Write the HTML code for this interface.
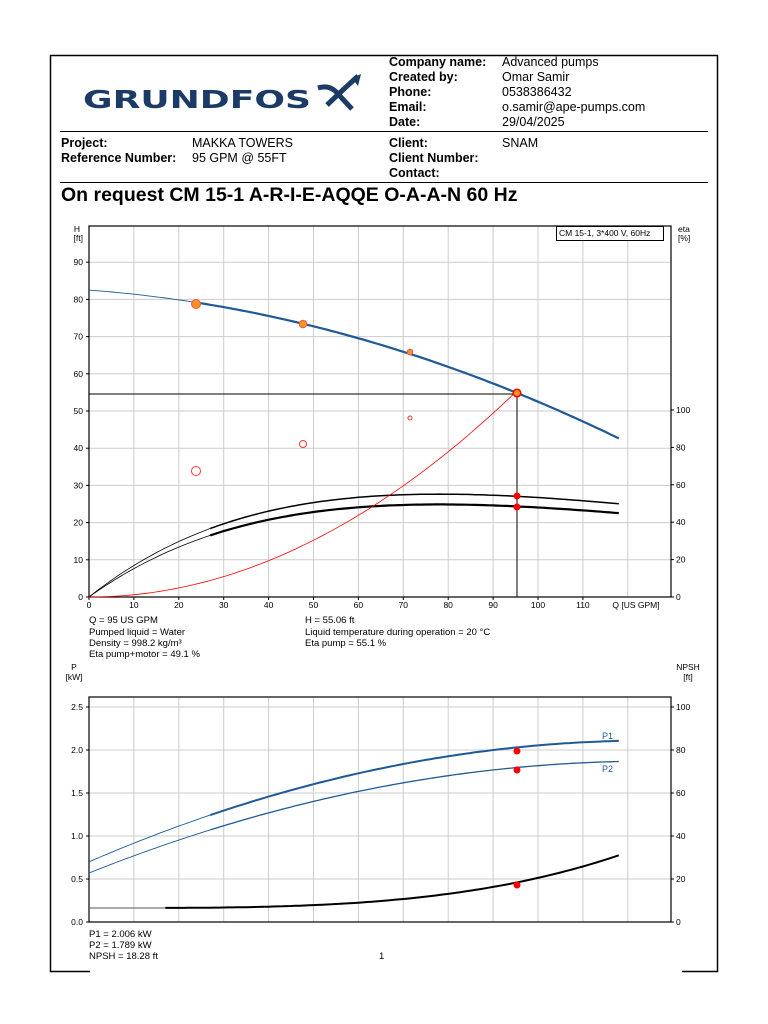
<!DOCTYPE html>
<html><head><meta charset="utf-8"><style>
body{margin:0;background:#fff;width:768px;height:1024px;overflow:hidden;font-family:"Liberation Sans",sans-serif}
svg{position:absolute;left:0;top:0}
</style></head><body>
<svg id="s" width="768" height="1024" xmlns="http://www.w3.org/2000/svg" font-family="Liberation Sans, sans-serif">
<rect x="50.5" y="55.5" width="667" height="916" fill="none" stroke="#000" stroke-width="1.5"/>
<rect x="90" y="960" width="592" height="20" fill="#fff"/>
<text x="83" y="108" font-size="25" font-weight="bold" fill="#1b3b66" textLength="228" lengthAdjust="spacingAndGlyphs" font-family="DejaVu Sans, sans-serif">GRUNDFOS</text>
<g fill="none" stroke="#1b3b66" stroke-width="5" stroke-linecap="butt">
<path d="M318 88 Q330 84 338 94 L352 109"/>
<path d="M327 105 L345 88 L358 76"/>
</g>
<path d="M352 78 L361 74 L358 86 Z" fill="#1b3b66"/>
<g font-size="12.5" font-weight="bold">
<text x="389" y="66">Company name:</text><text x="389" y="81">Created by:</text><text x="389" y="96">Phone:</text><text x="389" y="111">Email:</text><text x="389" y="126">Date:</text>
<text x="61" y="147">Project:</text><text x="61" y="162">Reference Number:</text>
<text x="389" y="147">Client:</text><text x="389" y="162">Client Number:</text><text x="389" y="177">Contact:</text>
</g>
<g font-size="12.5">
<text x="502" y="66">Advanced pumps</text><text x="502" y="81">Omar Samir</text><text x="502" y="96">0538386432</text><text x="502" y="111">o.samir@ape-pumps.com</text><text x="502" y="126">29/04/2025</text>
<text x="192" y="147">MAKKA TOWERS</text><text x="192" y="162">95 GPM @ 55FT</text><text x="502" y="147">SNAM</text>
</g>
<line x1="60" y1="131.5" x2="708" y2="131.5" stroke="#000"/>
<line x1="60" y1="182.5" x2="708" y2="182.5" stroke="#000"/>
<text x="61" y="201" font-size="19.5" font-weight="bold">On request CM 15-1 A-R-I-E-AQQE O-A-A-N 60 Hz</text>
<g id="g"></g>
<g font-size="9.5">
<text x="89" y="623">Q = 95 US GPM</text><text x="89" y="635">Pumped liquid = Water</text><text x="89" y="646">Density = 998.2 kg/m³</text><text x="89" y="657">Eta pump+motor = 49.1 %</text>
<text x="305" y="623">H = 55.06 ft</text><text x="305" y="635">Liquid temperature during operation = 20 °C</text><text x="305" y="646">Eta pump = 55.1 %</text>
<text x="89" y="937">P1 = 2.006 kW</text><text x="89" y="948">P2 = 1.789 kW</text><text x="89" y="959">NPSH = 18.28 ft</text><text x="379" y="959">1</text>
</g>
</svg>
<script>
var g=document.getElementById('g'),h='';
function X(q){return 89+q*4.49}
var L=89,R=671;
function ln(a,b,c,d,col,w){h+='<line x1="'+a+'" y1="'+b+'" x2="'+c+'" y2="'+d+'" stroke="'+col+'" stroke-width="'+(w||1)+'"/>'}
function tx(x,y,t,an,fs){h+='<text x="'+x+'" y="'+y+'" font-size="'+(fs||8.5)+'" text-anchor="'+(an||'start')+'">'+t+'</text>'}
function path(f,y,a,b,col,w){var d='';for(var q=a;q<=b+1e-6;q+=1){d+=(d?'L':'M')+X(q).toFixed(1)+' '+y(f(q)).toFixed(1)}h+='<path d="'+d+'" fill="none" stroke="'+col+'" stroke-width="'+w+'"/>'}
function circ(x,y,r,f,s,w){h+='<circle cx="'+x+'" cy="'+y+'" r="'+r+'" fill="'+f+'" stroke="'+s+'" stroke-width="'+(w||1)+'"/>'}
var T=226,B=597;
function YH(v){return 597-v*3.72} function YE(v){return 597-v*1.87}
for(var q=10;q<=129;q+=10)ln(X(q),T,X(q),B,'#ccc');
for(var v=10;v<=90;v+=10)ln(L,YH(v),R,YH(v),'#ccc');
h+='<rect x="'+L+'" y="'+T+'" width="'+(R-L)+'" height="'+(B-T)+'" fill="none" stroke="#000" stroke-width="1.2"/>';
for(var q=0;q<=110;q+=10){tx(X(q),608,q,'middle');ln(X(q),B,X(q),B+3,'#000')}
tx(636,608,'Q [US GPM]','middle');
for(var v=0;v<=90;v+=10){tx(83,YH(v)+3,v,'end');ln(L-3,YH(v),L,YH(v),'#000')}
for(var v=0;v<=100;v+=20){tx(676,YE(v)+3,v);ln(R,YE(v),R+3,YE(v),'#000')}
tx(80,232,'H','end');tx(83,241,'[ft]','end');tx(678,232,'eta');tx(678,241,'[%]');
h+='<rect x="556.5" y="226.5" width="107" height="14" fill="#fff" stroke="#000"/>';tx(559,236,'CM 15-1, 3*400 V, 60Hz','start',8.5);
function H(q){return 82.5-0.0895*q-0.002105*q*q}
function E1(q){var r=q/78;return 55*r*Math.exp(1-r)}
function E2(q){var r=q/78;return 49.5*r*Math.exp(1-r)}
function S(q){return 55.06*Math.pow(q/95,2)}
path(E1,YE,0,27,'#000',0.8);path(E1,YE,27,118,'#000',1.5);
path(E2,YE,0,27,'#000',0.8);path(E2,YE,27,118,'#000',2.2);
path(S,YH,0,95,'#f00',0.8);
path(H,YH,0,24,'#1f5a96',0.9);path(H,YH,24,118,'#1f5a96',2.2);
ln(L,394,517,394,'#000');ln(517,394,517,B,'#000');
circ(196,471,4.5,'none','#f33');circ(303,444,3.5,'none','#f33');circ(410,418,2,'none','#f33');
circ(196,304,4.5,'#f7941d','#e55');circ(303,324,3.8,'#f7941d','#e55');circ(410,352,2.8,'#f7941d','#e55');circ(517,393,3.8,'#f7941d','#f00',1.5);
circ(517,496,3,'#f00','#f00');circ(517,507,3,'#f00','#f00');
var T2=697,B2=922;
function YP(v){return 922-v*86} function YN(v){return 922-v*2.15}
for(var q=10;q<=129;q+=10)ln(X(q),T2,X(q),B2,'#ccc');
for(var v=0.5;v<=2.5;v+=0.5)ln(L,YP(v),R,YP(v),'#ccc');
h+='<rect x="'+L+'" y="'+T2+'" width="'+(R-L)+'" height="'+(B2-T2)+'" fill="none" stroke="#000" stroke-width="1.2"/>';
['0.0','0.5','1.0','1.5','2.0','2.5'].forEach(function(t,i){tx(83,YP(i*0.5)+3,t,'end');ln(L-3,YP(i*0.5),L,YP(i*0.5),'#000')});
for(var v=0;v<=100;v+=20){tx(676,YN(v)+3,v);ln(R,YN(v),R+3,YN(v),'#000')}
tx(74,670,'P','middle');tx(74,680,'[kW]','middle');tx(688,670,'NPSH','middle');tx(688,680,'[ft]','middle');
function P1(q){var r=1-q/125;return 2.11-1.41*r*r}
function P2(q){var r=1-q/125;return 1.87-1.30*r*r}
function N(q){return 6.5+11.78*Math.pow(q/95,3.38)}
path(P1,YP,0,27,'#1f5a96',0.9);path(P1,YP,27,118,'#1f5a96',2);
path(P2,YP,0,27,'#1f5a96',0.9);path(P2,YP,27,118,'#1f5a96',1.3);
path(N,YN,0,17,'#555',0.9);path(N,YN,17,118,'#000',2);
circ(517,751,3,'#f00','#f00');circ(517,770,3,'#f00','#f00');circ(517,885,3,'#f00','#f00');
h+='<text x="602" y="739" font-size="9" fill="#1f5a96">P1</text><text x="602" y="772" font-size="9" fill="#1f5a96">P2</text>';
g.innerHTML=h;
</script>
</body></html>
